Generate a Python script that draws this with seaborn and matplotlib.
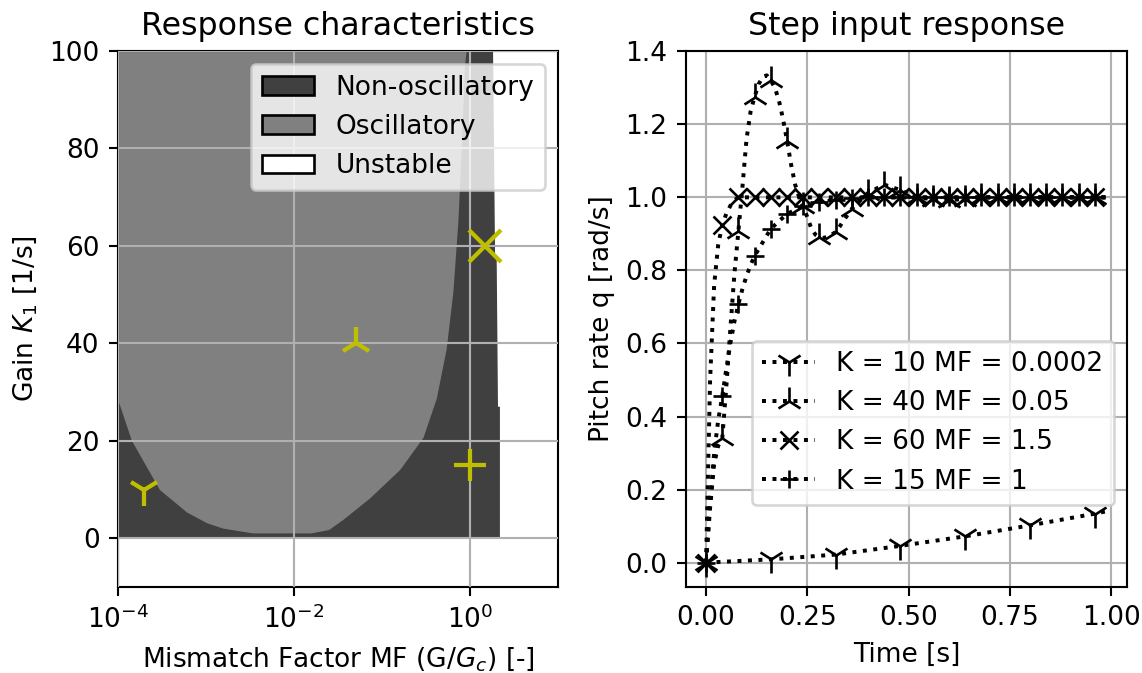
import matplotlib
matplotlib.use("Agg")
import matplotlib.pyplot as plt
from matplotlib.patches import Patch
import numpy as np
import seaborn as sns

# ---------------- Left panel data ----------------
# right edge of the stable (non-oscillatory) region: log10(MF) vs K
dark_edge_logmf = [0.34, 0.34, 0.318, 0.303, 0.285, 0.262]
dark_edge_k = [0.0, 27.0, 27.0, 58.0, 58.0, 100.0]

# boundary of the oscillatory region (U shape): log10(MF) vs K
osc_logmf = [-4.0, -4.0, -3.844, -3.716, -3.523, -3.216, -2.989, -2.807, -2.466,
             -1.8, -1.6, -1.437, -1.134, -0.794, -0.529, -0.378, -0.265, -0.189,
             -0.132, -0.094, -0.057, -0.038]
osc_k = [100.0, 28.5, 20.1, 16.0, 9.9, 5.3, 3.1, 2.0, 1.0,
         1.0, 1.7, 3.8, 8.2, 14.0, 20.6, 28.6, 38.8, 50.5,
         65.0, 79.7, 97.0, 100.0]

region_labels = ["Non-oscillatory", "Oscillatory", "Unstable"]
region_colors = ["#404040", "#808080", "#ffffff"]

op_mf = [2e-4, 0.05, 1.5, 1.0]
op_k = [10, 40, 60, 15]
op_markers = ["1", "2", "x", "+"]

# ---------------- Right panel data ----------------
series_labels = ["K = 10 MF = 0.0002", "K = 40 MF = 0.05", "K = 60 MF = 1.5", "K = 15 MF = 1"]

t_k10 = [0.0, 0.16, 0.32, 0.48, 0.64, 0.80, 0.96, 0.99]
q_k10 = [0.0, 0.009, 0.022, 0.046, 0.072, 0.102, 0.134, 0.141]

t_k40 = [0.0, 0.01, 0.02, 0.03, 0.04, 0.05, 0.06, 0.07, 0.08, 0.09, 0.10, 0.11, 0.12,
         0.13, 0.14, 0.15, 0.16, 0.17, 0.18, 0.19, 0.20, 0.21, 0.22, 0.23, 0.24, 0.25,
         0.26, 0.27, 0.28, 0.29, 0.30, 0.31, 0.32, 0.33, 0.34, 0.35, 0.36,
         0.40, 0.44, 0.48, 0.52, 0.56, 0.60, 0.64, 0.68, 0.72, 0.76, 0.80, 0.84,
         0.88, 0.92, 0.96, 0.99]
q_k40 = [0.0, 0.15, 0.27, 0.32, 0.34, 0.48, 0.64, 0.79, 0.909, 1.03, 1.16, 1.235, 1.276,
         1.31, 1.33, 1.334, 1.32, 1.30, 1.265, 1.215, 1.155, 1.09, 1.035, 1.0, 0.975, 0.946,
         0.915, 0.898, 0.891, 0.889, 0.892, 0.898, 0.905, 0.92, 0.937, 0.953, 0.969,
         1.012, 1.035, 1.02, 1.0, 0.995, 0.992, 0.996, 1.0, 1.0, 1.0, 1.0, 1.0,
         1.0, 1.0, 1.0, 1.0]

t_k60 = [0.0, 0.01, 0.02, 0.03, 0.04, 0.05, 0.06, 0.07, 0.08, 0.12, 0.16, 0.20, 0.24,
         0.28, 0.32, 0.36, 0.40, 0.44, 0.48, 0.52, 0.56, 0.60, 0.64, 0.68, 0.72, 0.76,
         0.80, 0.84, 0.88, 0.92, 0.96, 0.99]
q_k60 = [0.0, 0.5, 0.76, 0.87, 0.925, 0.955, 0.977, 0.992, 1.0, 1.0, 1.0, 1.0, 1.0,
         1.0, 1.0, 1.0, 1.0, 1.0, 1.0, 1.0, 1.0, 1.0, 1.0, 1.0, 1.0, 1.0,
         1.0, 1.0, 1.0, 1.0, 1.0, 1.0]

t_k15 = [0.0, 0.01, 0.02, 0.03, 0.04, 0.05, 0.06, 0.07, 0.08, 0.09, 0.10, 0.11, 0.12,
         0.16, 0.20, 0.24, 0.28, 0.32, 0.36, 0.40, 0.44, 0.48, 0.52, 0.56, 0.60, 0.64,
         0.68, 0.72, 0.76, 0.80, 0.84, 0.88, 0.92, 0.96, 0.99]
q_k15 = [0.0, 0.17, 0.30, 0.39, 0.455, 0.53, 0.60, 0.66, 0.708, 0.75, 0.785, 0.815, 0.84,
         0.914, 0.955, 0.975, 0.987, 0.994, 0.998, 1.0, 1.0, 1.0, 1.0, 1.0, 1.0, 1.0,
         1.0, 1.0, 1.0, 1.0, 1.0, 1.0, 1.0, 1.0, 1.0]

series_t = [t_k10, t_k40, t_k60, t_k15]
series_q = [q_k10, q_k40, q_k60, q_k15]
series_markers = ["1", "2", "x", "+"]
series_msize = [10.5, 10.5, 7.0, 7.0]
series_mark_step = [0.16, 0.04, 0.04, 0.04]

# ---------------- Figure ----------------
DPI = 190
fig = plt.figure(figsize=(1142 / DPI, 673 / DPI), dpi=DPI)
ax1 = fig.add_axes([118 / 1142, 86 / 673, 440 / 1142, 536 / 673])
ax2 = fig.add_axes([686 / 1142, 86 / 673, 441 / 1142, 536 / 673])

# Left: region map
ax1.set_xscale("log")
dark_x = [1e-4] + [10 ** v for v in dark_edge_logmf] + [1e-4]
dark_y = [0.0] + dark_edge_k + [100.0]
ax1.fill(dark_x, dark_y, color=region_colors[0], lw=0, zorder=1)
ax1.fill([10 ** v for v in osc_logmf], osc_k, color=region_colors[1], lw=0, zorder=1.1)
for mf, k, m in zip(op_mf, op_k, op_markers):
    ax1.plot([mf], [k], linestyle="none", marker=m, color="y", markersize=12.5,
             markeredgewidth=1.6, zorder=3)
ax1.set_xlim(1e-4, 1e1)
ax1.set_ylim(-10, 100)
ax1.set_xticks([1e-4, 1e-2, 1e0])
ax1.xaxis.set_minor_locator(matplotlib.ticker.NullLocator())
ax1.set_yticks([0, 20, 40, 60, 80, 100])
ax1.grid(True, color="#b0b0b0", linewidth=0.8, zorder=2)
ax1.set_axisbelow(False)
ax1.set_title("Response characteristics", fontsize=12)
ax1.set_xlabel("Mismatch Factor MF (G/$G_c$) [-]")
ax1.set_ylabel("Gain $K_1$ [1/s]")
handles = [Patch(facecolor=c, edgecolor="k", label=l) for c, l in zip(region_colors, region_labels)]
ax1.legend(handles=handles, loc="upper right")

# Right: step responses
for t, q, m, ms, step, lab in zip(series_t, series_q, series_markers, series_msize,
                                   series_mark_step, series_labels):
    idx = [i for i, v in enumerate(t) if abs(v / step - round(v / step)) < 1e-6]
    sns.lineplot(x=t, y=q, ax=ax2, estimator=None, sort=False, color="k",
                 linestyle=":", linewidth=1.5, marker=m, markevery=idx,
                 markersize=ms, markeredgecolor="k", markeredgewidth=1.0, label=lab)
ax2.set_xticks([0.0, 0.25, 0.5, 0.75, 1.0])
ax2.set_yticks([0.0, 0.2, 0.4, 0.6, 0.8, 1.0, 1.2, 1.4])
ax2.set_xlim(-0.0495, 1.0395)
ax2.set_ylim(-0.0667, 1.4007)
ax2.grid(True, color="#b0b0b0", linewidth=0.8)
ax2.set_title("Step input response", fontsize=12)
ax2.set_xlabel("Time [s]")
ax2.set_ylabel("Pitch rate q [rad/s]")
ax2.legend(loc="lower right", bbox_to_anchor=(1.0, 0.128))

fig.savefig("out.png", dpi=DPI)
